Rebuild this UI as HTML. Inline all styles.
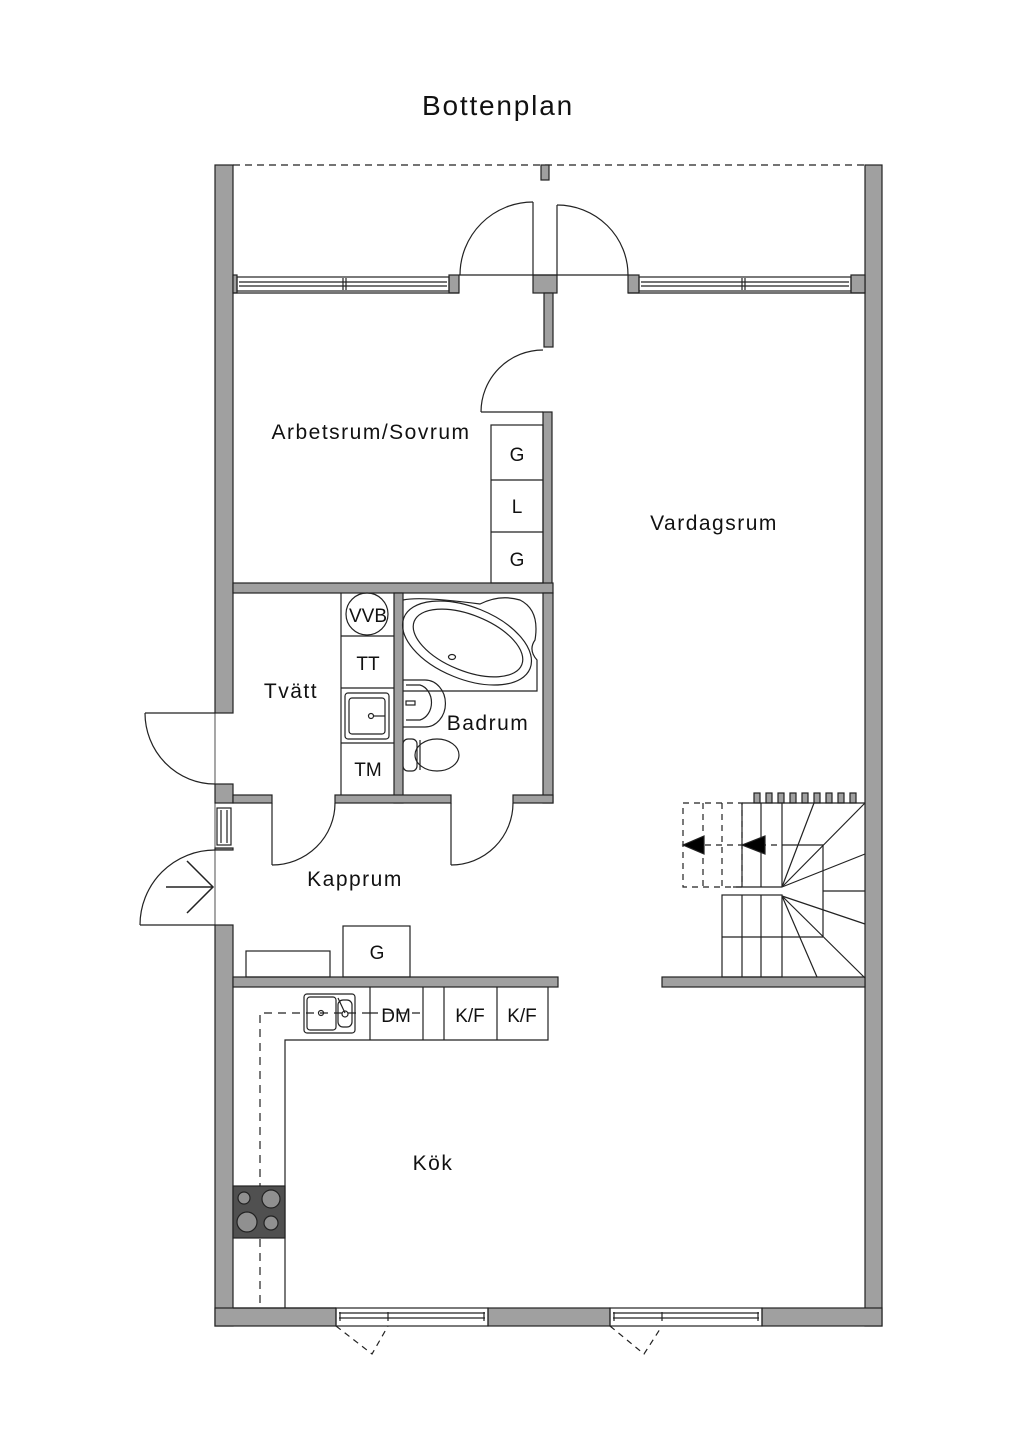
<!DOCTYPE html>
<html><head><meta charset="utf-8"><style>
html,body{margin:0;padding:0;background:#fff}
svg{display:block}
text{font-family:"Liberation Sans",sans-serif;fill:#111}
</style></head><body>
<svg width="1024" height="1448" viewBox="0 0 1024 1448" xmlns="http://www.w3.org/2000/svg">
<g stroke="#222" stroke-width="1.2" fill="none">
<text x="498" y="115" font-size="28" letter-spacing="1.8" text-anchor="middle" stroke="none">Bottenplan</text>

<line x1="233" y1="165" x2="865" y2="165" stroke-dasharray="7,5"/>
<rect x="541" y="165" width="8" height="15" fill="#a0a0a0"/>

<g fill="#a0a0a0">
<rect x="215" y="165" width="18" height="548"/>
<rect x="215" y="784" width="18" height="19"/>
<rect x="215" y="848" width="18" height="2"/>
<rect x="215" y="925" width="18" height="401"/>
<rect x="865" y="165" width="17" height="1161"/>
<rect x="215" y="1308" width="121" height="18"/>
<rect x="488" y="1308" width="122" height="18"/>
<rect x="762" y="1308" width="120" height="18"/>
<rect x="233" y="275" width="4" height="18"/>
<rect x="449" y="275" width="10" height="18"/>
<rect x="533" y="275" width="24" height="18"/>
<rect x="544" y="293" width="9" height="54"/>
<rect x="628" y="275" width="11" height="18"/>
<rect x="851" y="275" width="14" height="18"/>
<rect x="543" y="412" width="9" height="181"/>
<rect x="233" y="583" width="320" height="10"/>
<rect x="394" y="593" width="9" height="210"/>
<rect x="543" y="593" width="10" height="210"/>
<rect x="233" y="795" width="39" height="8"/>
<rect x="335" y="795" width="116" height="8"/>
<rect x="513" y="795" width="40" height="8"/>
<rect x="233" y="977" width="325" height="10"/>
<rect x="662" y="977" width="203" height="10"/>
</g>

<rect x="237" y="277" width="212" height="14"/>
<line x1="239" y1="282" x2="447" y2="282"/><line x1="239" y1="286" x2="447" y2="286"/>
<line x1="343" y1="278" x2="343" y2="290"/><line x1="346" y1="278" x2="346" y2="290"/>
<line x1="233" y1="293" x2="459" y2="293"/>
<rect x="639" y="277" width="212" height="14"/>
<line x1="641" y1="282" x2="849" y2="282"/><line x1="641" y1="286" x2="849" y2="286"/>
<line x1="742" y1="278" x2="742" y2="290"/><line x1="745" y1="278" x2="745" y2="290"/>
<line x1="628" y1="293" x2="865" y2="293"/>
<line x1="459" y1="275" x2="628" y2="275"/>
<line x1="533" y1="202" x2="533" y2="275"/>
<path d="M533,202 A73,73 0 0 0 460,275"/>
<line x1="557" y1="205" x2="557" y2="275"/>
<path d="M557,205 A71,70 0 0 1 628,275"/>
<line x1="481" y1="412" x2="543" y2="412"/>
<path d="M481,412 A62,62 0 0 1 543,350"/>

<rect x="491" y="425" width="52" height="158"/>
<line x1="491" y1="480" x2="543" y2="480"/><line x1="491" y1="532" x2="543" y2="532"/>
<text x="517" y="461" font-size="19" text-anchor="middle" stroke="none">G</text>
<text x="517" y="513" font-size="19" text-anchor="middle" stroke="none">L</text>
<text x="517" y="566" font-size="19" text-anchor="middle" stroke="none">G</text>

<line x1="341" y1="593" x2="341" y2="795"/>
<line x1="341" y1="636" x2="394" y2="636"/><line x1="341" y1="688" x2="394" y2="688"/><line x1="341" y1="743" x2="394" y2="743"/>
<circle cx="367" cy="614" r="21"/>
<text x="368" y="622" font-size="19" text-anchor="middle" stroke="none">VVB</text>
<text x="368" y="670" font-size="19" text-anchor="middle" stroke="none">TT</text>
<rect x="345" y="693" width="44" height="46" rx="3"/>
<rect x="349" y="698" width="36" height="36" rx="3"/>
<circle cx="371" cy="716" r="2.5"/><line x1="373" y1="716" x2="385" y2="716"/>
<text x="368" y="776" font-size="19" text-anchor="middle" stroke="none">TM</text>

<path d="M403,600 Q420,596 480,604 Q500,594 520,600 Q540,610 535,640 Q528,650 537,660 L537,691 L403,691"/>
<ellipse cx="467" cy="643" rx="68" ry="36" transform="rotate(22 467 643)"/>
<ellipse cx="468" cy="643" rx="58" ry="28" transform="rotate(22 468 643)"/>
<ellipse cx="452" cy="657" rx="3.5" ry="2.5"/>
<path d="M403,680 L425,680 A20,23 0 0 1 425,727 L403,727"/>
<path d="M406,685 L420,685 A15,18 0 0 1 420,720 L406,720"/>
<rect x="406" y="701" width="9" height="4"/>
<rect x="403" y="739" width="14" height="32" rx="5"/>
<ellipse cx="437" cy="755" rx="22" ry="16"/>
<line x1="420" y1="740" x2="420" y2="770"/>

<line x1="145" y1="713" x2="215" y2="713"/>
<path d="M145,713 A70,71 0 0 0 215,784"/>
<rect x="217" y="808" width="14" height="37"/>
<line x1="221" y1="810" x2="221" y2="843"/><line x1="227" y1="810" x2="227" y2="843"/>
<line x1="140" y1="925" x2="215" y2="925"/>
<path d="M140,925 A75,75 0 0 1 215,850"/>
<line x1="166" y1="887" x2="213" y2="887" stroke-width="1.5"/>
<polyline points="187,861 213,887 187,913" stroke-width="1.5"/>
<line x1="215" y1="713" x2="215" y2="925" stroke-width="0.8"/>

<line x1="272" y1="803" x2="272" y2="865"/>
<path d="M272,865 A63,62 0 0 0 335,803"/>
<line x1="451" y1="803" x2="451" y2="865"/>
<path d="M451,865 A62,62 0 0 0 513,803"/>

<rect x="246" y="951" width="84" height="26"/>
<rect x="343" y="926" width="67" height="51"/>
<text x="377" y="959" font-size="19" text-anchor="middle" stroke="none">G</text>

<polyline points="548,987 548,1040 285,1040 285,1308"/>
<line x1="233" y1="1308" x2="336" y2="1308"/>
<line x1="370" y1="987" x2="370" y2="1040"/><line x1="423" y1="987" x2="423" y2="1040"/>
<line x1="444" y1="987" x2="444" y2="1040"/><line x1="497" y1="987" x2="497" y2="1040"/>
<rect x="304" y="994" width="51" height="39" rx="3"/>
<rect x="307" y="997" width="29" height="33" rx="3"/>
<rect x="338" y="1000" width="14" height="27" rx="5"/>
<circle cx="321" cy="1013" r="2.5"/><circle cx="345" cy="1014" r="3"/>
<line x1="338" y1="998" x2="345" y2="1013"/>
<polyline points="260,1303 260,1013 370,1013" stroke-dasharray="8,6"/>
<line x1="370" y1="1013" x2="423" y2="1013" stroke-dasharray="8,6"/>
<text x="396" y="1022" font-size="19" text-anchor="middle" stroke="none">DM</text>
<text x="470" y="1022" font-size="19" text-anchor="middle" stroke="none">K/F</text>
<text x="522" y="1022" font-size="19" text-anchor="middle" stroke="none">K/F</text>
<rect x="233" y="1186" width="52" height="52" fill="#505050"/>
<g fill="#909090" stroke="#222">
<circle cx="244" cy="1198" r="6"/><circle cx="271" cy="1199" r="9"/>
<circle cx="247" cy="1222" r="10"/><circle cx="271" cy="1223" r="7"/>
</g>

<rect x="336" y="1308" width="152" height="18"/>
<line x1="339" y1="1313" x2="485" y2="1313"/><line x1="339" y1="1318" x2="485" y2="1318"/>
<line x1="388" y1="1312" x2="388" y2="1321"/><line x1="340" y1="1312" x2="340" y2="1321"/><line x1="484" y1="1312" x2="484" y2="1321"/>
<polyline points="336,1326 372,1354 388,1326" stroke-dasharray="6,5"/>
<rect x="610" y="1308" width="152" height="18"/>
<line x1="613" y1="1313" x2="759" y2="1313"/><line x1="613" y1="1318" x2="759" y2="1318"/>
<line x1="662" y1="1312" x2="662" y2="1321"/><line x1="614" y1="1312" x2="614" y2="1321"/><line x1="758" y1="1312" x2="758" y2="1321"/>
<polyline points="610,1326 644,1354 662,1326" stroke-dasharray="6,5"/>

<g fill="#a0a0a0">
<rect x="754" y="793" width="6" height="10"/><rect x="766" y="793" width="6" height="10"/><rect x="778" y="793" width="6" height="10"/><rect x="790" y="793" width="6" height="10"/><rect x="802" y="793" width="6" height="10"/><rect x="814" y="793" width="6" height="10"/><rect x="826" y="793" width="6" height="10"/><rect x="838" y="793" width="6" height="10"/><rect x="850" y="793" width="6" height="10"/>
</g>
<line x1="742" y1="803" x2="865" y2="803"/>
<line x1="742" y1="803" x2="742" y2="887"/><line x1="761" y1="803" x2="761" y2="887"/><line x1="782" y1="803" x2="782" y2="887"/>
<line x1="733" y1="887" x2="782" y2="887"/>
<rect x="722" y="895" width="60" height="82"/>
<line x1="742" y1="895" x2="742" y2="977"/><line x1="761" y1="895" x2="761" y2="977"/>
<line x1="722" y1="937" x2="823" y2="937"/>
<polyline points="782,845 823,845 823,937"/>
<line x1="782" y1="887" x2="814" y2="803"/><line x1="782" y1="887" x2="865" y2="803"/><line x1="782" y1="887" x2="865" y2="854"/>
<line x1="823" y1="891" x2="865" y2="891"/>
<line x1="782" y1="896" x2="865" y2="924"/><line x1="782" y1="896" x2="865" y2="978"/><line x1="782" y1="896" x2="817" y2="977"/>
<rect x="683" y="803" width="59" height="84" stroke-dasharray="6,5"/>
<line x1="703" y1="803" x2="703" y2="887" stroke-dasharray="6,5"/>
<line x1="722" y1="803" x2="722" y2="887" stroke-dasharray="6,5"/>
<line x1="683" y1="845" x2="782" y2="845" stroke-dasharray="6,5"/>
<polygon points="683,845 704,836 704,854" fill="#000"/>
<polygon points="742,845 765,836 765,854" fill="#000"/>

<g stroke="none" font-size="21" letter-spacing="1.5" text-anchor="middle">
<text x="371" y="439">Arbetsrum/Sovrum</text>
<text x="714" y="530">Vardagsrum</text>
<text x="291" y="698">Tvätt</text>
<text x="488" y="730">Badrum</text>
<text x="355" y="886">Kapprum</text>
<text x="433" y="1170">Kök</text>
</g>
</g>
</svg>
</body></html>
